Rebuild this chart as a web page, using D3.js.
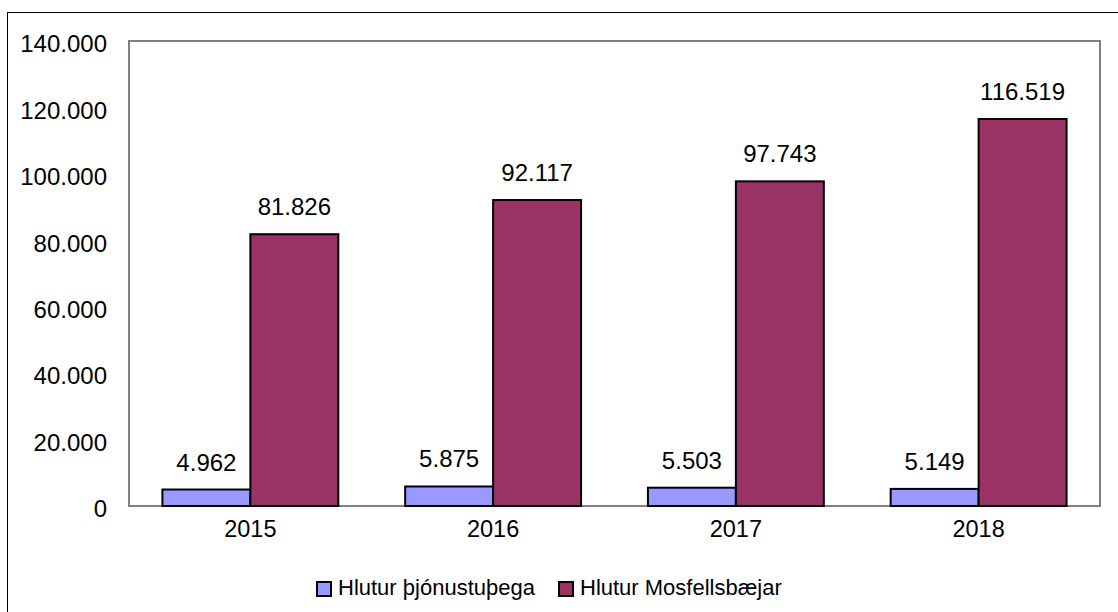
<!DOCTYPE html>
<html>
<head>
<meta charset="utf-8">
<script src="https://cdn.jsdelivr.net/npm/d3@7"></script>
<style>
  body { margin: 0; background: #fff; }
  text { font-family: Arial, "Liberation Sans", sans-serif; fill: #000; }
</style>
</head>
<body>
<script>
const years = ['2015', '2016', '2017', '2018'];
const seriesNames = ['Hlutur þjónustuþega', 'Hlutur Mosfellsbæjar'];
const thjonustuthega = [4962, 5875, 5503, 5149];
const mosfellsbaejar = [81826, 92117, 97743, 116519];
const yTicks = [0, 20000, 40000, 60000, 80000, 100000, 120000, 140000];
const colors = ['#9999ff', '#993366'];

const width = 1118, height = 612;
const plot = { left: 129, top: 41, right: 1100, bottom: 506 };

// icelandic style number: 81.826
const fmt = (v) => d3.format(',')(v).replace(/,/g, '.');

const svg = d3.select('body').append('svg')
  .attr('width', width)
  .attr('height', height);

// chart outer border
svg.append('rect')
  .attr('x', 7.5).attr('y', 12.5)
  .attr('width', 1130).attr('height', 620)
  .attr('fill', 'none').attr('stroke', '#000').attr('stroke-width', 1);

let x = d3.scaleBand()
  .domain(years)
  .range([plot.left, plot.right]);

let x1 = d3.scaleBand()
  .domain([0, 1])
  .range([0, x.bandwidth()])
  .paddingOuter(0.38);

let y = d3.scaleLinear()
  .domain([0, 140000])
  .range([plot.bottom, plot.top]);

// plot frame
svg.append('rect')
  .attr('x', plot.left).attr('y', plot.top)
  .attr('width', plot.right - plot.left).attr('height', plot.bottom - plot.top)
  .attr('fill', 'none').attr('stroke', '#808080').attr('stroke-width', 2);

// y axis labels
let yAxis = svg.append('g')
  .attr('transform', `translate(${plot.left},0)`)
  .call(d3.axisLeft(y).tickValues(yTicks).tickFormat(fmt).tickSize(0).tickPadding(22));
yAxis.select('.domain').remove();
yAxis.selectAll('text')
  .attr('font-size', 24)
  .attr('font-family', 'Arial, "Liberation Sans", sans-serif')
  .attr('fill', '#000')
  .attr('dy', '0.45em');

// x axis labels
let xAxis = svg.append('g')
  .attr('transform', `translate(0,${plot.bottom})`)
  .call(d3.axisBottom(x).tickSize(0).tickPadding(24));
xAxis.select('.domain').remove();
xAxis.selectAll('text')
  .attr('font-size', 23.5)
  .attr('font-family', 'Arial, "Liberation Sans", sans-serif')
  .attr('fill', '#000')
  .attr('dy', '0.3em');

const rows = years.map((yr, i) => ({ year: yr, vals: [thjonustuthega[i], mosfellsbaejar[i]] }));

let groups = svg.selectAll('.grp')
  .data(rows)
  .enter()
  .append('g')
  .attr('class', 'grp')
  .attr('transform', (d) => `translate(${x(d.year)},0)`);

groups.selectAll('rect')
  .data((d) => d.vals.map((v, k) => ({ v: v, k: k })))
  .enter()
  .append('rect')
  .attr('x', (d) => x1(d.k))
  .attr('y', (d) => y(d.v))
  .attr('width', x1.bandwidth())
  .attr('height', (d) => y(0) - y(d.v))
  .attr('fill', (d) => colors[d.k])
  .attr('stroke', '#000')
  .attr('stroke-width', 2);

groups.selectAll('.lbl')
  .data((d) => d.vals.map((v, k) => ({ v: v, k: k })))
  .enter()
  .append('text')
  .attr('class', 'lbl')
  .attr('x', (d) => x1(d.k) + x1.bandwidth() / 2)
  .attr('y', (d) => y(d.v) - 19)
  .attr('text-anchor', 'middle')
  .attr('font-size', 24)
  .text((d) => fmt(d.v));

// legend
const legendX = [316, 558];
let legend = svg.selectAll('.leg')
  .data(seriesNames)
  .enter()
  .append('g')
  .attr('class', 'leg')
  .attr('transform', (d, i) => `translate(${legendX[i]},581)`);

legend.append('rect')
  .attr('x', 1).attr('y', 1)
  .attr('width', 14).attr('height', 14)
  .attr('fill', (d, i) => colors[i])
  .attr('stroke', '#000')
  .attr('stroke-width', 2);

legend.append('text')
  .attr('x', 22)
  .attr('y', 14)
  .attr('font-size', 22)
  .text((d) => d);
</script>
</body>
</html>
